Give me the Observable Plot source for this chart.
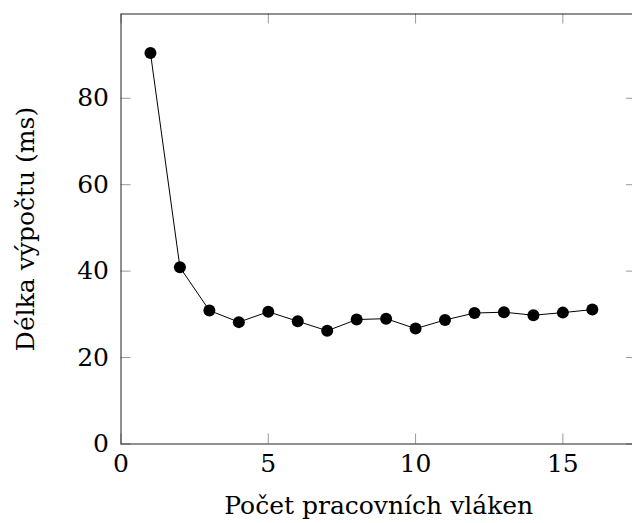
<!DOCTYPE html>
<html>
<head>
<meta charset="utf-8">
<script src="https://cdn.jsdelivr.net/npm/d3@7"></script>
<script src="https://cdn.jsdelivr.net/npm/@observablehq/plot@0.6"></script>
<style>
html, body { margin: 0; padding: 0; background: #fff; overflow: hidden; }
#chart { width: 632px; height: 523px; overflow: hidden; }
#chart svg { display: block; max-width: none !important; width: 640px !important; height: 523px !important; }
</style>
</head>
<body>
<div id="chart"></div>
<script>
// Data
const threads = [1, 2, 3, 4, 5, 6, 7, 8, 9, 10, 11, 12, 13, 14, 15, 16];
const durations = [90.5, 40.9, 30.9, 28.2, 30.6, 28.4, 26.2, 28.8, 29.0, 26.7, 28.7, 30.3, 30.5, 29.8, 30.4, 31.1];
const xTicks = [0, 5, 10, 15];
const yTicks = [0, 20, 40, 60, 80];
const xLabel = "Počet pracovních vláken";
const yLabel = "Délka výpočtu (ms)";

const data = threads.map((t, i) => ({threads: t, ms: durations[i]}));

const W = 640, H = 523;
const mL = 120.5, mR = 4, mT = 13.5, mB = 79.5;
const xDomain = [0, 17.5], yDomain = [0, 99.5];
const font = "DejaVu Serif";
const fs = 25;
const tickLen = 10;
const kx = (W - mL - mR) / (xDomain[1] - xDomain[0]);
const ky = (H - mT - mB) / (yDomain[1] - yDomain[0]);
const tx = tickLen / kx, ty = tickLen / ky;
const tickColor = "#999";

const chart = Plot.plot({
  width: W,
  height: H,
  marginLeft: mL,
  marginRight: mR,
  marginTop: mT,
  marginBottom: mB,
  style: {fontFamily: font, fontSize: fs + "px", background: "#fff", overflow: "visible"},
  x: {domain: xDomain},
  y: {domain: yDomain},
  marks: [
    // inward ticks on all four sides
    Plot.ruleX(xTicks, {x: d => d, y1: yDomain[0], y2: yDomain[0] + ty, stroke: tickColor}),
    Plot.ruleX(xTicks, {x: d => d, y1: yDomain[1], y2: yDomain[1] - ty, stroke: tickColor}),
    Plot.ruleY(yTicks, {y: d => d, x1: xDomain[0], x2: xDomain[0] + tx, stroke: tickColor}),
    Plot.ruleY(yTicks, {y: d => d, x1: xDomain[1], x2: xDomain[1] - tx, stroke: tickColor}),
    Plot.frame({stroke: "#222", strokeWidth: 1}),
    Plot.axisX({ticks: xTicks, tickSize: 0, tickPadding: 10, label: null, fontSize: fs, fontFamily: font, tickFormat: d => String(d)}),
    Plot.axisY({ticks: yTicks, tickSize: 0, tickPadding: 12, label: null, fontSize: fs, fontFamily: font, tickFormat: d => String(d)}),
    Plot.text([xLabel], {text: d => d, frameAnchor: "bottom", textAnchor: "middle", lineAnchor: "middle", dy: 62, fontSize: fs, fontFamily: font, fill: "#000"}),
    Plot.text([yLabel], {text: d => d, frameAnchor: "left", textAnchor: "middle", lineAnchor: "middle", rotate: -90, dx: -95, fontSize: fs, fontFamily: font, fill: "#000"}),
    Plot.line(data, {x: "threads", y: "ms", stroke: "#000", strokeWidth: 1}),
    Plot.dot(data, {x: "threads", y: "ms", r: 6, fill: "#000", stroke: "none"})
  ]
});
document.getElementById("chart").appendChild(chart);
</script>
</body>
</html>
